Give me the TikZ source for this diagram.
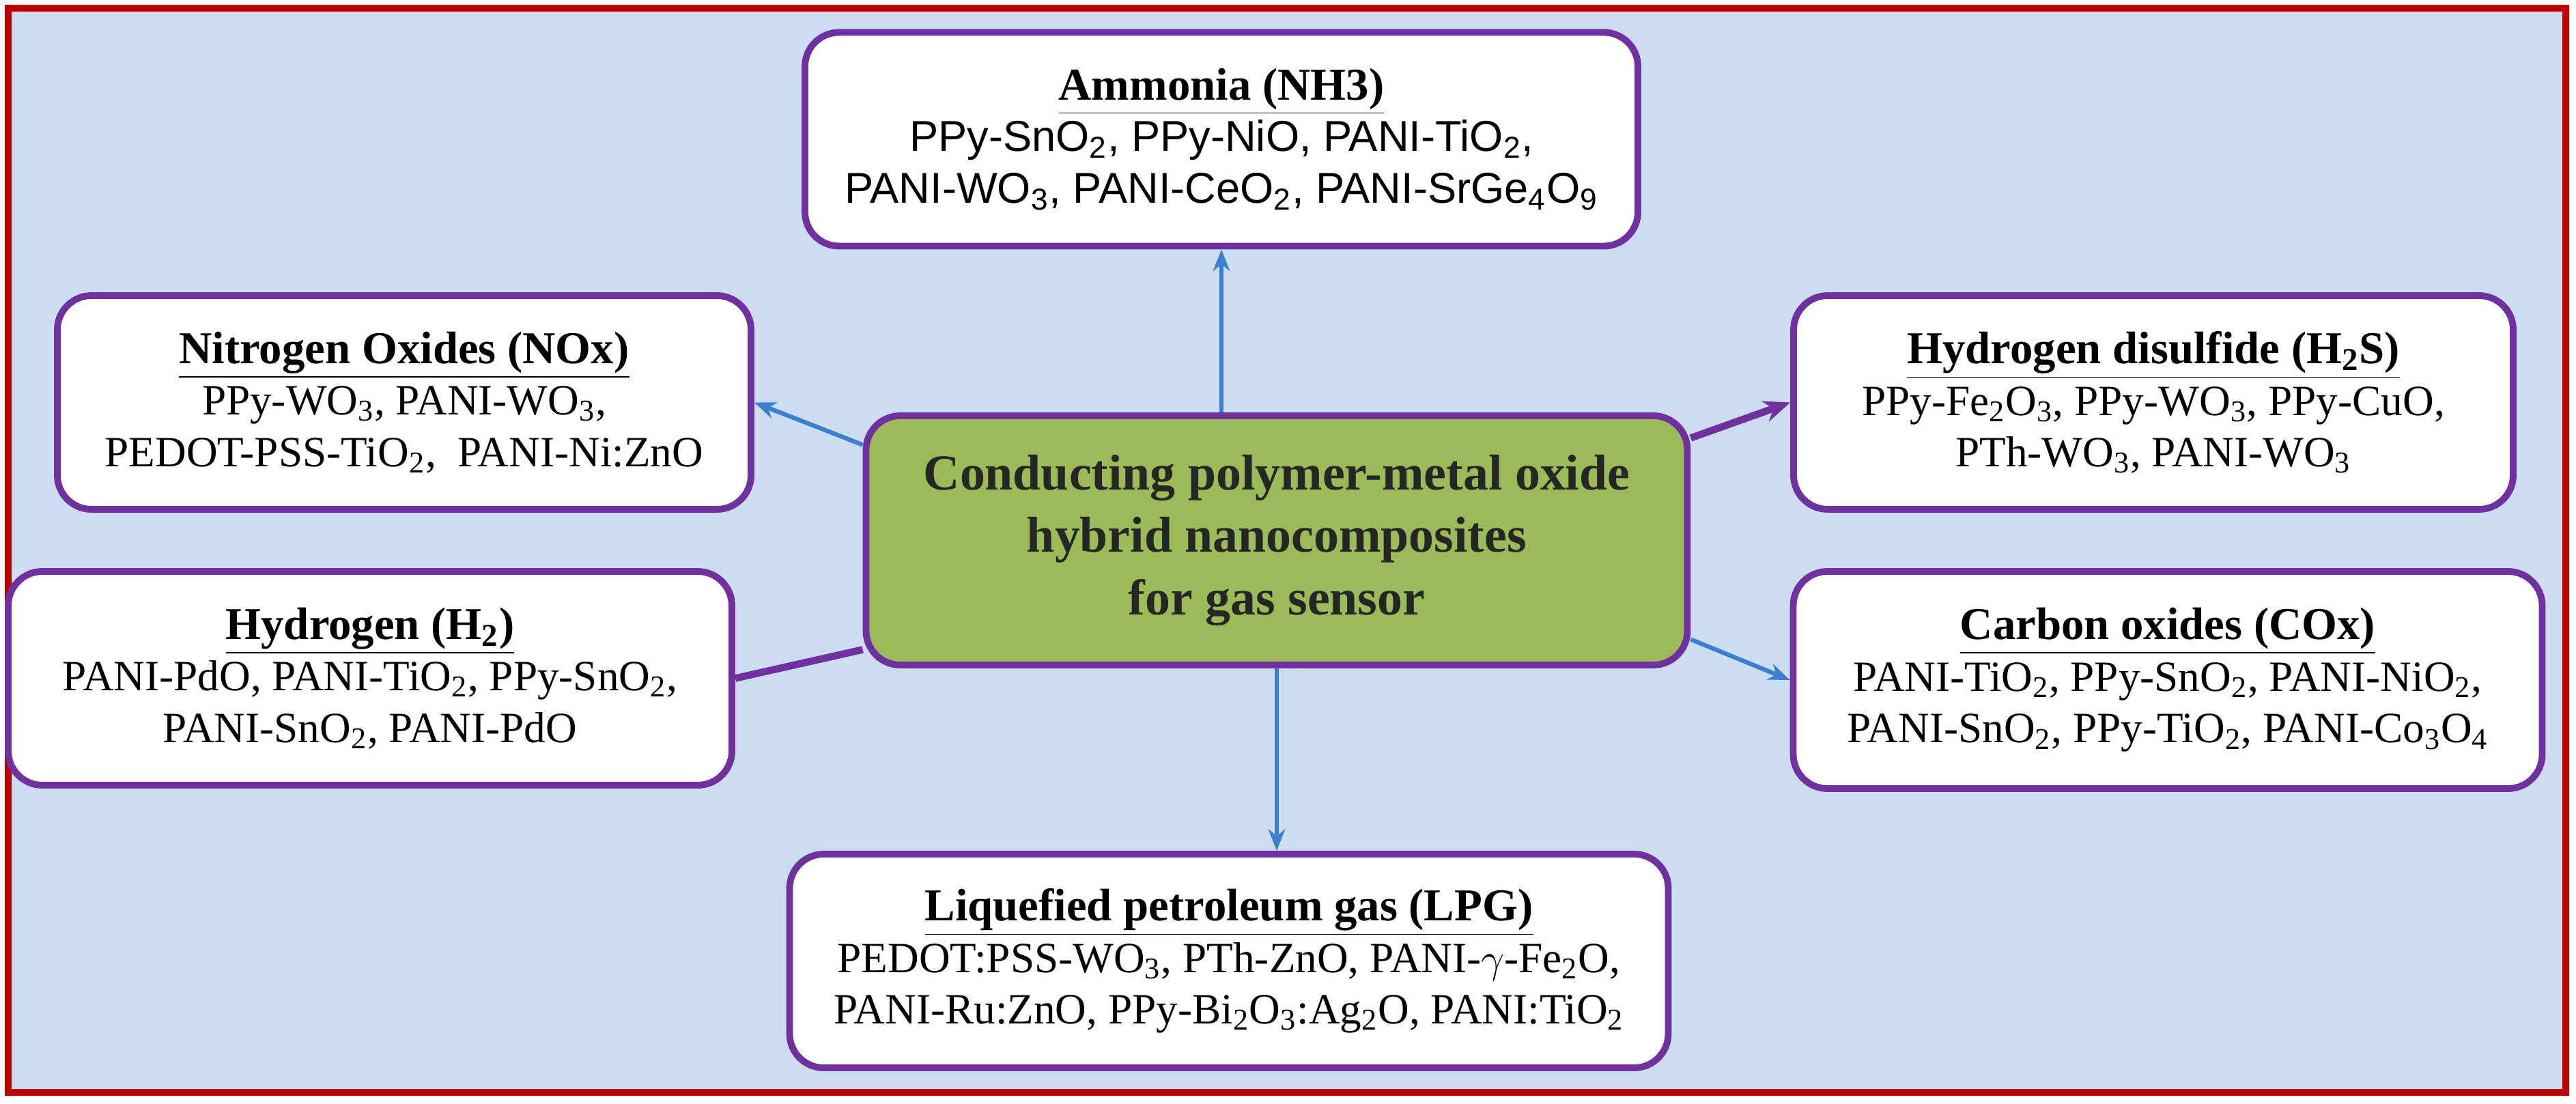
\documentclass[tikz,border=0pt]{standalone}
\usepackage{fontspec}
\setmainfont{Liberation Serif}
\newfontfamily\arialf{Liberation Sans}
\usetikzlibrary{calc,arrows.meta}
\definecolor{bgc}{HTML}{CCDDF1}
\definecolor{redb}{HTML}{C00000}
\definecolor{purp}{HTML}{7030A0}
\definecolor{arb}{HTML}{3C7FD0}
\definecolor{grn}{HTML}{9BBB59}
\begin{document}
\begin{tikzpicture}[
 gbox/.style={draw=purp,line width=2.8pt,rounded corners=0.5cm,fill=white,align=center,inner sep=0pt,
   font=\fontsize{18}{21.5}\selectfont},
 cbox/.style={draw=purp,line width=2.8pt,rounded corners=0.5cm,fill=grn,align=center,inner sep=0pt,
   font=\fontsize{21}{26}\selectfont\bfseries, text=black!85},
 arr/.style={draw=arb,line width=1.8pt,-{Stealth[length=9pt,width=7pt]}},
 parr/.style={draw=purp,line width=3pt},
]
\useasboundingbox (0,0) rectangle (37.73,16.16);
\fill[bgc] (0.12,0.16) rectangle (37.58,16.04);
\draw[redb,line width=3pt] (0.12,0.16) rectangle (37.58,16.04);

\newcommand{\ttl}[1]{{\fontsize{19}{22}\selectfont\bfseries\setlength{\fboxsep}{0pt}\underline{#1}}}
\newcommand{\sbs}[1]{\textsubscript{#1}}

\node[cbox,minimum width=12.03cm,minimum height=3.65cm] (c) at (18.7,8.245)
 {Conducting polymer-metal oxide\\hybrid nanocomposites\\for gas sensor};

\node[gbox,minimum width=12.2cm,minimum height=3.13cm] (amm) at (17.89,14.12)
 {\ttl{Ammonia (NH3)}\\{\arialf PPy-SnO\sbs{2}, PPy-NiO, PANI-TiO\sbs{2},}\\{\arialf PANI-WO\sbs{3}, PANI-CeO\sbs{2}, PANI-SrGe\sbs{4}O\sbs{9}}};

\node[gbox,minimum width=10.16cm,minimum height=3.13cm] (nox) at (5.92,10.265)
 {\ttl{Nitrogen Oxides (NOx)}\\PPy-WO\sbs{3}, PANI-WO\sbs{3},\\PEDOT-PSS-TiO\sbs{2},\ \ PANI-Ni:ZnO};

\node[gbox,minimum width=10.6cm,minimum height=3.13cm] (h2) at (5.42,6.225)
 {\ttl{Hydrogen (H\sbs{2})}\\PANI-PdO, PANI-TiO\sbs{2}, PPy-SnO\sbs{2},\\PANI-SnO\sbs{2}, PANI-PdO};

\node[gbox,minimum width=10.54cm,minimum height=3.13cm] (h2s) at (31.54,10.265)
 {\ttl{Hydrogen disulfide (H\sbs{2}S)}\\PPy-Fe\sbs{2}O\sbs{3}, PPy-WO\sbs{3}, PPy-CuO,\\PTh-WO\sbs{3}, PANI-WO\sbs{3}};

\node[gbox,minimum width=10.97cm,minimum height=3.18cm] (cox) at (31.75,6.2)
 {\ttl{Carbon oxides (COx)}\\PANI-TiO\sbs{2}, PPy-SnO\sbs{2}, PANI-NiO\sbs{2},\\PANI-SnO\sbs{2}, PPy-TiO\sbs{2}, PANI-Co\sbs{3}O\sbs{4}};

\node[gbox,minimum width=12.87cm,minimum height=3.13cm] (lpg) at (18.0,2.085)
 {\ttl{Liquefied petroleum gas (LPG)}\\PEDOT:PSS-WO\sbs{3}, PTh-ZnO, PANI-$\gamma$-Fe\sbs{2}O,\\PANI-Ru:ZnO, PPy-Bi\sbs{2}O\sbs{3}:Ag\sbs{2}O, PANI:TiO\sbs{2}};

\draw[arr] (amm.south |- c.north) -- (amm.south);
\draw[arr] (c.south) -- (c.south |- lpg.north);
\draw[arr] ($(c.west)+(0,1.4)$) -- (nox.east);
\draw[parr] ($(c.west)+(0,-1.6)$) -- (h2.east);
\draw[parr,-{Stealth[length=11pt,width=9pt]}] ($(c.east)+(0,1.5)$) -- (h2s.west);
\draw[arr] ($(c.east)+(0,-1.45)$) -- (cox.west);
\end{tikzpicture}
\end{document}
